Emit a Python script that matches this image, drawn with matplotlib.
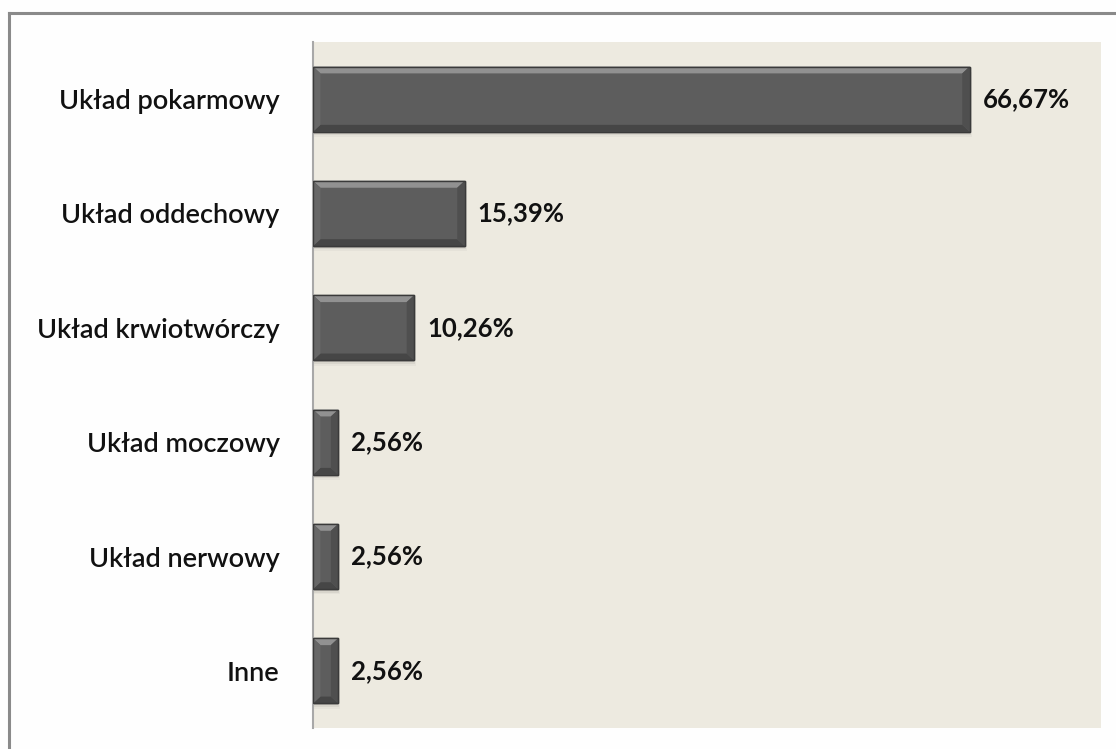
import matplotlib.pyplot as plt
from matplotlib.patches import Polygon, Rectangle
from matplotlib.lines import Line2D

categories = ['Układ pokarmowy', 'Układ oddechowy', 'Układ krwiotwórczy',
              'Układ moczowy', 'Układ nerwowy', 'Inne']
values = [66.67, 15.39, 10.26, 2.56, 2.56, 2.56]
value_labels = ['66,67%', '15,39%', '10,26%', '2,56%', '2,56%', '2,56%']

plt.rcParams['font.family'] = ['Lato', 'DejaVu Sans']

fig = plt.figure(figsize=(11.16, 7.49), dpi=100)
fig.patch.set_facecolor('#fefefe')
ax = fig.add_axes([0.2805, 0.028, 0.706, 0.916])
ax.set_facecolor('#edeae0')

# frame of the outer chart area (only top and left edges are inside the image)
fig.add_artist(Line2D([0.008, 0.008], [0.0, 0.983], transform=fig.transFigure,
                      color='#8a8a8a', lw=2.2))
fig.add_artist(Line2D([0.008, 1.0], [0.983, 0.983], transform=fig.transFigure,
                      color='#8a8a8a', lw=2.2))

ypos = list(range(len(categories)))
h = 0.57
xmax = 80
ax.set_xlim(0, xmax)
ax.set_ylim(len(categories) - 0.5, -0.5)

# soft shadow under each bar
for y, v in zip(ypos, values):
    for k, a in enumerate([0.10, 0.07, 0.04]):
        ax.add_patch(Rectangle((0, y - h / 2 + 0.015 * (k + 1)), v + 0.1 * k, h,
                               facecolor='#303030', alpha=a, lw=0, zorder=1))

bars = ax.barh(ypos, values, height=h, color='#5d5d5d', edgecolor='#3a3a3a',
               linewidth=1, zorder=2)

# bevel edges
bx = 0.75   # data units along x
by = 0.06   # data units along y
for y, v in zip(ypos, values):
    top, bot = y - h / 2, y + h / 2
    dx = min(bx, v / 2)
    # top bevel
    ax.add_patch(Polygon([(0, top), (v, top), (v - dx, top + by), (dx, top + by)],
                         closed=True, facecolor='#919191', lw=0, zorder=3))
    # bottom bevel
    ax.add_patch(Polygon([(0, bot), (v, bot), (v - dx, bot - by), (dx, bot - by)],
                         closed=True, facecolor='#464646', lw=0, zorder=3))
    # left / right bevel
    ax.add_patch(Polygon([(0, top), (dx, top + by), (dx, bot - by), (0, bot)],
                         closed=True, facecolor='#676767', lw=0, zorder=3))
    ax.add_patch(Polygon([(v, top), (v - dx, top + by), (v - dx, bot - by), (v, bot)],
                         closed=True, facecolor='#4f4f4f', lw=0, zorder=3))
    # outline again on top
    ax.add_patch(Rectangle((0, top), v, h, fill=False, edgecolor='#3a3a3a',
                           lw=1, zorder=4))

for y, v, lab in zip(ypos, values, value_labels):
    ax.text(v + 1.3, y, lab, va='center', ha='left', fontsize=18.5,
            fontweight='bold', color='#111111', zorder=5)

ax.set_yticks(ypos)
ax.set_yticklabels(categories, fontsize=19.5, fontweight='semibold', color='#111111')
ax.tick_params(axis='y', length=0, pad=24)
ax.set_xticks([])
for s in ['top', 'right', 'bottom']:
    ax.spines[s].set_visible(False)
ax.spines['left'].set_color('#a8a8a8')
ax.spines['left'].set_linewidth(1.5)

fig.savefig('out.png', dpi=100, facecolor=fig.get_facecolor())
